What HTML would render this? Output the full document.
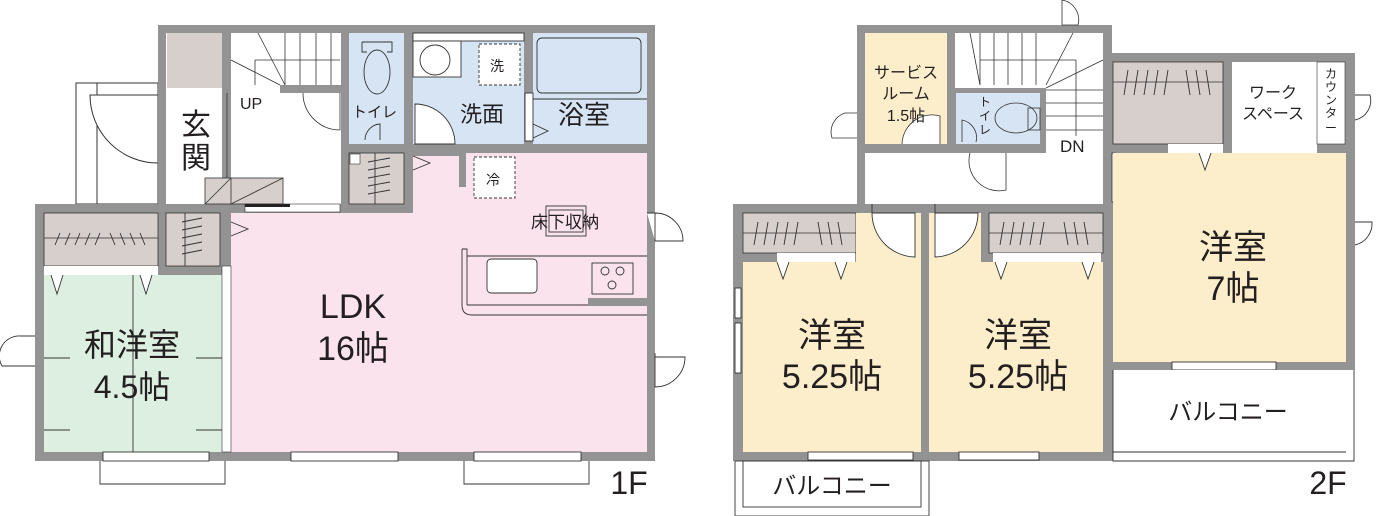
<!DOCTYPE html>
<html><head><meta charset="utf-8"><style>
html,body{margin:0;padding:0;background:#fff;}
svg{display:block;}
text{font-family:"Liberation Sans","Noto Sans CJK JP",sans-serif;fill:#231f20;}
</style></head><body>
<svg width="1378" height="516" viewBox="0 0 1378 516" xmlns="http://www.w3.org/2000/svg">
<g stroke="#333" stroke-width="1" fill="none">
<rect x="76" y="83" width="82" height="121" fill="#fff"/>
<line x1="97" y1="83" x2="97" y2="204"/>
</g>
<path d="M90 95 H158 V163 A68 68 0 0 1 90 95 Z" fill="#fff" stroke="#333" stroke-width="1"/>
<g fill="#939393">
<rect x="158" y="25" width="497" height="128"/>
<rect x="35" y="204" width="620" height="257"/>
<rect x="158" y="25" width="191" height="188"/>
<rect x="341" y="144" width="314" height="69"/>
</g>
<g fill="#fff">
<rect x="166" y="33" width="56" height="171"/>
<rect x="231" y="33" width="110" height="171"/>
</g>
<rect x="167" y="33" width="55" height="55" fill="#d6cfcc"/>
<rect x="280" y="85" width="61" height="8" fill="#939393"/>
<g stroke="#333" stroke-width="0.8" fill="none">
<line x1="231" y1="60" x2="280" y2="85"/><line x1="255" y1="60" x2="340" y2="60"/>
<line x1="255" y1="60" x2="255" y2="85"/>
<line x1="258" y1="33" x2="285" y2="85"/>
<line x1="285" y1="33" x2="285" y2="85"/><line x1="300" y1="33" x2="300" y2="85"/>
<line x1="316" y1="33" x2="316" y2="85"/><line x1="331" y1="33" x2="331" y2="85"/>
<path d="M303 93 A37 37 0 0 0 340 130"/><line x1="340" y1="93" x2="340" y2="130"/>
<line x1="227" y1="93" x2="227" y2="200"/>
</g>
<rect x="205" y="178" width="78" height="26" fill="#d6cfcc" stroke="#333" stroke-width="0.8"/>
<line x1="205" y1="204" x2="231" y2="178" stroke="#333" stroke-width="0.8"/>
<line x1="231" y1="204" x2="283" y2="178" stroke="#333" stroke-width="0.8"/>
<line x1="231" y1="178" x2="231" y2="204" stroke="#333" stroke-width="0.8"/>
<rect x="245" y="204" width="95" height="8" fill="#fff" stroke="#333" stroke-width="0.6"/>
<rect x="245" y="204" width="45" height="3" fill="#222"/>
<rect x="349" y="33" width="55" height="111" fill="#d6e4f4"/>
<rect x="413" y="33" width="111" height="111" fill="#d6e4f4"/>
<rect x="533" y="33" width="114" height="111" fill="#d6e4f4"/>
<g stroke="#333" stroke-width="0.9" fill="none">
<rect x="537" y="38" width="104" height="55" rx="5"/>
<line x1="533" y1="99" x2="647" y2="99"/>
<path d="M362 42 h30 v10 h-5 v0 M362 42 v10 h5"/>
<ellipse cx="377" cy="72" rx="13" ry="22"/>
<path d="M365 140 A16 16 0 0 1 380 124 V140"/>
<rect x="413" y="33" width="111" height="8" fill="#fff"/>
<rect x="413" y="41" width="48" height="36" fill="#fff"/>
<circle cx="435" cy="60" r="15" fill="#fff"/>
<rect x="479" y="44" width="41" height="41" fill="#fff" stroke-dasharray="3,2"/>
<path d="M415 104 A40 40 0 0 1 455 144 H415 Z" fill="#fff"/>
<rect x="525" y="93" width="8" height="48" fill="#fff"/>
<path d="M533 124 L548 131 L533 138"/>
</g>
<rect x="349" y="153" width="55" height="51" fill="#d6cfcc" stroke="#333" stroke-width="0.8"/>
<rect x="350" y="154" width="10" height="10" fill="#fff" stroke="#333" stroke-width="0.6"/>
<g stroke="#333" stroke-width="0.9"><line x1="375" y1="153" x2="375" y2="204"/>
<line x1="368" y1="162" x2="390" y2="158"/><line x1="368" y1="170" x2="390" y2="166"/><line x1="368" y1="178" x2="390" y2="174"/><line x1="368" y1="186" x2="390" y2="182"/><line x1="368" y1="194" x2="390" y2="190"/></g>
<path d="M413 153 H647 V452 H231 V213 H413 Z" fill="#fbe3ee"/>
<rect x="413" y="153" width="47" height="3" fill="#939393"/>
<rect x="459" y="153" width="7" height="34" fill="#939393"/>
<g stroke="#333" stroke-width="0.9" fill="none">
<path d="M413 156 L430 163 L413 170"/>
<rect x="474" y="157" width="41" height="41" fill="#fff" stroke-dasharray="3,2"/>
<rect x="546" y="206" width="40" height="30"/><rect x="549" y="210" width="34" height="22"/>
<path d="M462 249 H467 V256 H647 M462 249 V305 Q462 315 472 315 H647"/>
<line x1="467" y1="256" x2="467" y2="305"/><line x1="467" y1="305" x2="588" y2="305"/>
<rect x="487" y="259" width="50" height="34" rx="4" fill="#fff"/>
<rect x="592" y="263" width="41" height="31"/>
<circle cx="605" cy="271" r="4"/><circle cx="620" cy="271" r="4"/><circle cx="612" cy="285" r="4"/>
<path d="M647 213 H655 A28 28 0 0 1 683 241 H655 M655 213 V241" fill="#fff"/>
<path d="M655 353 V387 A30 30 0 0 0 685 357 H655" fill="#fff"/>
<path d="M231 222 L248 229 L231 236"/>
</g>
<rect x="588" y="298" width="59" height="8" fill="#939393"/>
<rect x="44" y="213" width="114" height="53" fill="#d6cfcc" stroke="#333" stroke-width="0.8"/>
<line x1="44" y1="238" x2="158" y2="238" stroke="#333" stroke-width="0.8"/>
<g stroke="#333" stroke-width="0.9"><line x1="55" y1="245" x2="60" y2="233"/><line x1="65" y1="245" x2="70" y2="233"/><line x1="75" y1="245" x2="80" y2="233"/><line x1="85" y1="245" x2="90" y2="233"/><line x1="95" y1="245" x2="100" y2="233"/><line x1="115" y1="245" x2="110" y2="233"/><line x1="125" y1="245" x2="120" y2="233"/><line x1="135" y1="245" x2="130" y2="233"/><line x1="145" y1="245" x2="140" y2="233"/></g>
<rect x="166" y="213" width="54" height="53" fill="#d6cfcc" stroke="#333" stroke-width="0.8"/>
<g stroke="#333" stroke-width="0.9"><line x1="185" y1="213" x2="185" y2="266"/><line x1="182" y1="222" x2="202" y2="218"/><line x1="182" y1="230" x2="202" y2="226"/><line x1="182" y1="238" x2="202" y2="234"/><line x1="182" y1="246" x2="202" y2="242"/><line x1="182" y1="254" x2="202" y2="250"/></g>
<rect x="44" y="266" width="114" height="9" fill="#fff"/>
<rect x="44" y="275" width="178" height="177" fill="#dcefe0"/>
<rect x="222" y="266" width="9" height="186" fill="#fff" stroke="#333" stroke-width="0.6"/>
<g stroke="#333" stroke-width="0.9" fill="none">
<line x1="133" y1="275" x2="133" y2="452"/>
<line x1="44" y1="358" x2="70" y2="358"/><line x1="196" y1="358" x2="222" y2="358"/>
<line x1="44" y1="430" x2="70" y2="430"/><line x1="196" y1="430" x2="222" y2="430"/>
<path d="M51 275 L57 294 L63 275 M140 275 L146 294 L152 275" fill="#fff"/>
<path d="M35 336 H21 A20 20 0 0 0 2 366 H35" fill="#fff"/>
<rect x="103" y="452" width="106" height="9" fill="#fff"/>
<path d="M100 461 V484 H225 V461"/>
<rect x="291" y="452" width="107" height="9" fill="#fff"/>
<rect x="474" y="452" width="107" height="9" fill="#fff"/>
<path d="M464 461 V484 H589 V461"/>
</g>
<g fill="#939393">
<rect x="857" y="25" width="255" height="188"/>
<rect x="1104" y="53" width="251" height="317"/>
<rect x="733" y="204" width="380" height="257"/>
</g>
<rect x="865" y="33" width="82" height="111" fill="#fdeecb"/>
<rect x="955" y="33" width="148" height="111" fill="#fff"/>
<rect x="955" y="144" width="148" height="9" fill="#939393"/>
<rect x="865" y="153" width="238" height="51" fill="#fff"/>
<rect x="948" y="88" width="98" height="65" fill="#939393"/>
<rect x="956" y="93" width="84" height="51" fill="#d6e4f4"/>
<rect x="1046" y="144" width="57" height="9" fill="#fff"/>
<g stroke="#333" stroke-width="0.8" fill="none">
<line x1="970" y1="33" x2="980" y2="85"/><line x1="1073" y1="33" x2="1046" y2="85"/>
<line x1="980" y1="33" x2="980" y2="85"/><line x1="994" y1="33" x2="994" y2="85"/><line x1="1008" y1="33" x2="1008" y2="85"/><line x1="1022" y1="33" x2="1022" y2="85"/><line x1="1036" y1="33" x2="1036" y2="85"/>
<line x1="980" y1="60" x2="1076" y2="60"/><line x1="1076" y1="60" x2="1076" y2="136"/>
<line x1="1046" y1="88" x2="1103" y2="60"/>
<line x1="1046" y1="90" x2="1103" y2="90"/><line x1="1046" y1="103" x2="1103" y2="103"/><line x1="1046" y1="116" x2="1103" y2="116"/><line x1="1046" y1="130" x2="1103" y2="130"/>
<ellipse cx="1016" cy="118" rx="21" ry="15"/><rect x="1028" y="108" width="12" height="22"/>
<path d="M962 142 V120 A18 18 0 0 1 976 142"/>
<path d="M1062 0 A20 20 0 0 1 1078 25 H1062 V0" fill="#fff"/>
<path d="M857 113 H845 A20 20 0 0 0 832 138 H857" fill="#fff"/>
<path d="M902 144 A30 30 0 0 1 940 116 V144" fill="#fff"/>
<path d="M970 153 A30 30 0 0 0 1006 190 V153" />
<path d="M1112 153 V202 A46 46 0 0 0 1154 157 Z" fill="#fff"/>
</g>
<rect x="1113" y="62" width="110" height="82" fill="#d6cfcc" stroke="#333" stroke-width="0.8"/>
<line x1="1113" y1="82" x2="1223" y2="82" stroke="#333" stroke-width="0.8"/>
<g stroke="#333" stroke-width="0.9"><line x1="1124" y1="95" x2="1128" y2="70"/><line x1="1134" y1="95" x2="1138" y2="70"/><line x1="1144" y1="95" x2="1148" y2="70"/><line x1="1154" y1="95" x2="1158" y2="70"/><line x1="1164" y1="95" x2="1168" y2="70"/><line x1="1190" y1="95" x2="1186" y2="70"/><line x1="1200" y1="95" x2="1196" y2="70"/><line x1="1210" y1="95" x2="1206" y2="70"/></g>
<rect x="1232" y="62" width="85" height="91" fill="#fff"/>
<rect x="1317" y="62" width="28" height="82" fill="#fff" stroke="#333" stroke-width="0.6"/>
<rect x="1113" y="153" width="233" height="209" fill="#fdeecb"/>
<rect x="1168" y="144" width="55" height="9" fill="#fff"/>
<g stroke="#333" stroke-width="0.9" fill="none">
<path d="M1199 153 L1205 170 L1211 153" fill="#fff"/>
<path d="M1355 95 H1370 A20 20 0 0 1 1355 120" fill="#fff"/>
<path d="M1355 222 H1372 A22 22 0 0 1 1355 245" fill="#fff"/>
<rect x="1172" y="362" width="104" height="8" fill="#fff"/>
<path d="M1113 370 V461 H1354 V370" fill="#fff"/>
<line x1="1113" y1="452" x2="1346" y2="452"/>
</g>
<rect x="743" y="213" width="113" height="40" fill="#d6cfcc" stroke="#333" stroke-width="0.8"/>
<line x1="743" y1="233" x2="856" y2="233" stroke="#333" stroke-width="0.8"/>
<rect x="989" y="213" width="114" height="40" fill="#d6cfcc" stroke="#333" stroke-width="0.8"/>
<line x1="989" y1="233" x2="1103" y2="233" stroke="#333" stroke-width="0.8"/>
<g stroke="#333" stroke-width="0.9"><line x1="754" y1="245" x2="758" y2="222"/><line x1="764" y1="245" x2="768" y2="222"/><line x1="774" y1="245" x2="778" y2="222"/><line x1="784" y1="245" x2="788" y2="222"/><line x1="794" y1="245" x2="798" y2="222"/><line x1="822" y1="245" x2="818" y2="222"/><line x1="832" y1="245" x2="828" y2="222"/><line x1="842" y1="245" x2="838" y2="222"/>
<line x1="1000" y1="245" x2="1004" y2="222"/><line x1="1010" y1="245" x2="1014" y2="222"/><line x1="1020" y1="245" x2="1024" y2="222"/><line x1="1030" y1="245" x2="1034" y2="222"/><line x1="1040" y1="245" x2="1044" y2="222"/><line x1="1068" y1="245" x2="1064" y2="222"/><line x1="1078" y1="245" x2="1074" y2="222"/><line x1="1088" y1="245" x2="1084" y2="222"/></g>
<rect x="777" y="253" width="78" height="9" fill="#fff"/>
<rect x="993" y="253" width="108" height="9" fill="#fff"/>
<rect x="743" y="262" width="178" height="190" fill="#fdeecb"/>
<rect x="929" y="262" width="174" height="190" fill="#fdeecb"/>
<rect x="856" y="213" width="65" height="49" fill="#fdeecb"/>
<rect x="929" y="213" width="52" height="49" fill="#fdeecb"/>
<g stroke="#333" stroke-width="0.9" fill="none">
<path d="M872 204 V213 A44 44 0 0 0 915 257 V213 H872" fill="#fff"/>
<path d="M935 204 V257 A44 44 0 0 0 978 213 H935" fill="#fff"/>
<path d="M777 262 L783 279 L789 262 M835 262 L841 279 L847 262" fill="#fff"/>
<path d="M995 262 L1001 279 L1007 262 M1082 262 L1088 279 L1094 262" fill="#fff"/>
<rect x="735" y="288" width="6" height="30" fill="#fff"/><rect x="735" y="323" width="6" height="50" fill="#fff"/>
<rect x="808" y="452" width="105" height="8" fill="#fff"/>
<rect x="959" y="452" width="80" height="8" fill="#fff"/>
<rect x="735" y="461" width="194" height="55" fill="#fff"/>
<rect x="743" y="461" width="178" height="46"/>
</g>
<g font-size="30"><text x="181" y="135">玄</text><text x="181" y="168">関</text></g>
<text x="240" y="109" font-size="16">UP</text>
<text x="352" y="117" font-size="15">トイレ</text>
<text x="460" y="122" font-size="22">洗面</text>
<text x="558" y="124" font-size="26">浴室</text>
<text x="490" y="71" font-size="14">洗</text>
<text x="486" y="185" font-size="14">冷</text>
<text x="531" y="228" font-size="17">床下収納</text>
<text x="353" y="318" font-size="34" text-anchor="middle">LDK</text>
<text x="353" y="360" font-size="34" text-anchor="middle">16帖</text>
<text x="132" y="356" font-size="32" text-anchor="middle">和洋室</text>
<text x="132" y="398" font-size="32" text-anchor="middle">4.5帖</text>
<text x="629" y="494" font-size="32" text-anchor="middle">1F</text>
<g font-size="16" text-anchor="middle"><text x="906" y="78">サービス</text><text x="906" y="99">ルーム</text><text x="906" y="121">1.5帖</text></g>
<text x="1060" y="152" font-size="17">DN</text>
<g font-size="16" text-anchor="middle"><text x="1273" y="98">ワーク</text><text x="1273" y="119">スペース</text></g>
<g font-size="12" text-anchor="middle"><text x="1331" y="78">カ</text><text x="1331" y="91">ウ</text><text x="1331" y="104">ン</text><text x="1331" y="117">タ</text><text x="1331" y="132">ー</text></g>
<g font-size="12" text-anchor="middle"><text x="985" y="106">ト</text><text x="985" y="120">イ</text><text x="985" y="134">レ</text></g>
<text x="1233" y="259" font-size="34" text-anchor="middle">洋室</text>
<text x="1233" y="300" font-size="34" text-anchor="middle">7帖</text>
<text x="832" y="347" font-size="34" text-anchor="middle">洋室</text>
<text x="832" y="388" font-size="34" text-anchor="middle">5.25帖</text>
<text x="1018" y="347" font-size="34" text-anchor="middle">洋室</text>
<text x="1018" y="388" font-size="34" text-anchor="middle">5.25帖</text>
<text x="1228" y="420" font-size="24" text-anchor="middle">バルコニー</text>
<text x="832" y="494" font-size="24" text-anchor="middle">バルコニー</text>
<text x="1328" y="494" font-size="32" text-anchor="middle">2F</text>
</svg>
</body></html>
